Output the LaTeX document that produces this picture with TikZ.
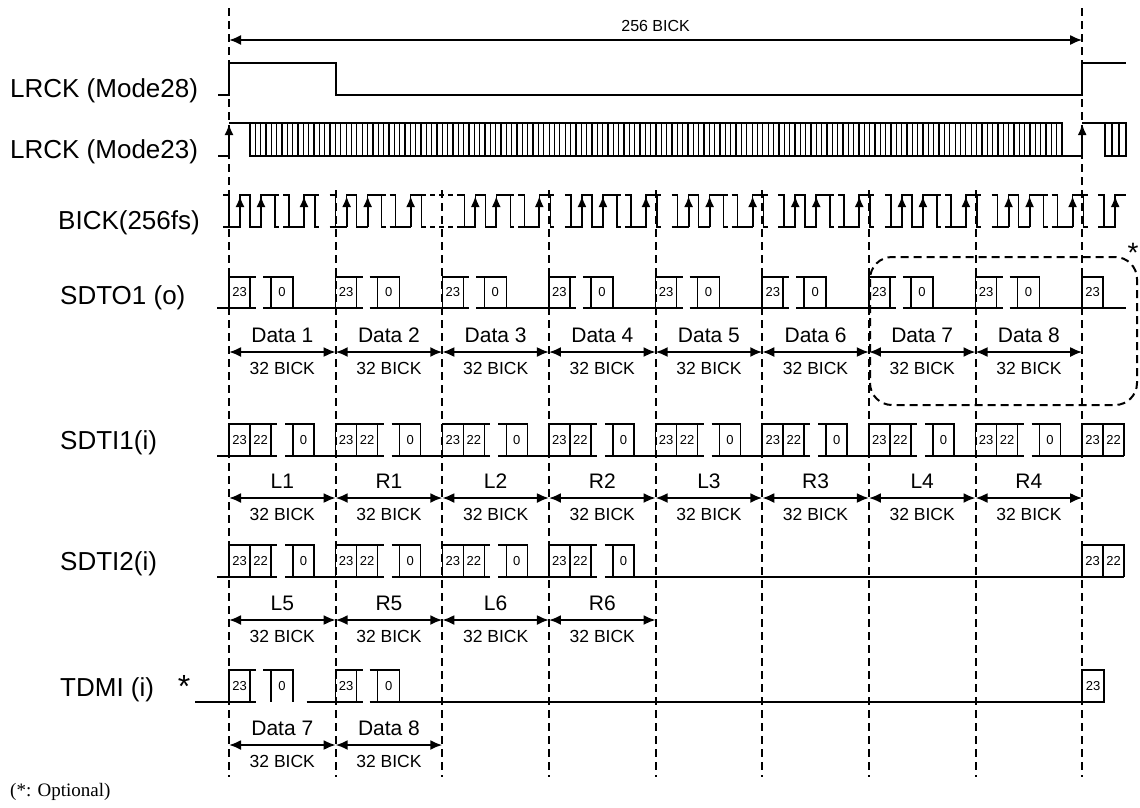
\documentclass[tikz,border=0pt]{standalone}
\usepackage{fontspec}
\setmainfont{Liberation Sans}
\newfontfamily\notefont{Liberation Serif}
\usetikzlibrary{arrows.meta}
\tikzset{
  sig/.style={line width=1.6pt},
  tick/.style={line width=1.3pt},
  grid/.style={line width=2pt,dash pattern=on 8pt off 5pt},
  span/.style={line width=2pt,{Latex[length=12pt,width=10pt]}-{Latex[length=12pt,width=10pt]}},
  rise/.style={line width=2pt,-{Latex[length=11pt,width=9pt]}},
  lbl/.style={anchor=base west,inner sep=0pt,font=\fontsize{26}{28}\selectfont},
  dat/.style={anchor=base,inner sep=0pt,font=\fontsize{21}{23}\selectfont},
  len/.style={anchor=base,inner sep=0pt,font=\fontsize{17.5}{19}\selectfont},
  bit/.style={inner sep=0pt,font=\fontsize{13}{14}\selectfont},
}
\newcommand{\burst}[1]{%
  \draw[sig] (#1-6,227) -- (#1,227) (#1-6,195) -- (#1,195) -- (#1,227) -- (#1+11,227) -- (#1+11,195) -- (#1+21,195) -- (#1+21,227) -- (#1+32,227) -- (#1+32,195) -- (#1+50,195) (#1+46,195) -- (#1+46,227) -- (#1+50,227) (#1+54,195) -- (#1+60,195) -- (#1+60,227) (#1+54,227) -- (#1+75,227) -- (#1+75,195) -- (#1+90,195) (#1+86,195) -- (#1+86,227) -- (#1+90,227);
  \draw[rise] (#1+11,227) -- (#1+11,196); \draw[rise] (#1+32,227) -- (#1+32,196); \draw[rise] (#1+75,227) -- (#1+75,196);}
\newcommand{\obits}[4]{% row, slot, top, base
  \pgfmathsetmacro\sx{229+106.65*#2}\pgfmathsetmacro\my{(#3+#4)/2}
  \draw[sig] (\sx,#4) -- (\sx,#3) -- (\sx+27,#3) (\sx+21,#3) -- (\sx+21,#4) (\sx+34,#3) -- (\sx+64,#3) -- (\sx+64,#4) (\sx+42,#3) -- (\sx+42,#4);
  \node[bit] (#1m#2) at (\sx+10.5,\my) {23};
  \node[bit] (#1l#2) at (\sx+53,\my) {0};}
\newcommand{\ibits}[4]{% row, slot, top, base
  \pgfmathsetmacro\sx{229+106.65*#2}\pgfmathsetmacro\my{(#3+#4)/2}
  \draw[sig] (\sx,#4) -- (\sx,#3) -- (\sx+48,#3) (\sx+21,#3) -- (\sx+21,#4) (\sx+42,#3) -- (\sx+42,#4) (\sx+56,#3) -- (\sx+85,#3) -- (\sx+85,#4) (\sx+64,#3) -- (\sx+64,#4);
  \node[bit] (#1m#2) at (\sx+10.5,\my) {23};
  \node[bit] (#1n#2) at (\sx+31.5,\my) {22};
  \node[bit] (#1l#2) at (\sx+74.5,\my) {0};}

\begin{document}
\begin{tikzpicture}[x=1pt,y=-1pt]
\useasboundingbox (0,0) rectangle (1140,807);
\draw[grid] (229,8) -- (229,777) (1082.2,8) -- (1082.2,777);
\foreach \i in {1,...,7} \draw[grid] ({229+106.65*\i},190) -- ({229+106.65*\i},777);
\draw[span] (229,40) -- (1082.2,40);
\node[len,font=\fontsize{16}{18}\selectfont] (total) at (655.6,31) {256 BICK};

\node[lbl] (lrckA) at (10,97) {LRCK (Mode28)};
\node[lbl] (lrckB) at (10,158) {LRCK (Mode23)};
\node[lbl] (bick) at (58,229) {BICK(256fs)};
\node[lbl] (sdto) at (60,304) {SDTO1 (o)};
\node[lbl] (sdtiA) at (60,449) {SDTI1(i)};
\node[lbl] (sdtiB) at (60,570) {SDTI2(i)};
\node[lbl] (tdmi) at (60,696) {TDMI (i)};
\node[inner sep=0pt,font=\fontsize{32}{32}\selectfont] (tstar) at (184,686) {*};

\draw[sig] (218,95) -- (229,95) -- (229,63) -- (336,63) -- (336,95) -- (1082.2,95) -- (1082.2,63) -- (1126,63);
\draw[sig] (218,156) -- (229,156) (229,123) -- (250,123) (1062,156) -- (1082.2,156) (1082.2,123) -- (1105,123);
\draw[sig] (250,123) rectangle (1062,156) (1105,123) rectangle (1126,156);
\foreach \k in {1,...,151} \draw[tick] ({250+5.342*\k},123) -- ++(0,33);
\draw[tick] (1112,123) -- ++(0,33) (1119,123) -- ++(0,33);
\draw[rise] (229,156) -- (229,124);
\draw[rise] (1082.2,156) -- (1082.2,124);

\foreach \b in {229,335.65,464.3,570.95,677.6,784.25,890.9,997.55} \burst{\b};
\draw[sig] (1098.2,227) -- (1104.2,227) (1098.2,195) -- (1104.2,195) -- (1104.2,227) -- (1115.2,227) -- (1115.2,195) -- (1126,195);
\draw[rise] (1115.2,227) -- (1115.2,196);
\draw[sig,dash pattern=on 5pt off 4pt] (430,195) -- (458,195) (430,227) -- (458,227);

\foreach \i in {0,...,7} \obits{o}{\i}{277}{308};
\draw[sig] (217,308) -- (256,308);
\foreach \i in {0,...,6} \draw[sig] ({229+106.65*\i+34},308) -- ({229+106.65*(\i+1)+27},308);
\draw[sig] (1009.55,308) -- (1126,308) (1082.2,308) -- (1082.2,277) -- (1103.2,277) -- (1103.2,308);
\node[bit] (om8) at (1092.7,292.5) {23};
\draw[grid,rounded corners=22pt] (870,257) rectangle (1137,405);
\node[inner sep=0pt,font=\fontsize{28}{28}\selectfont] (ostar) at (1133,253) {*};
\foreach \i [evaluate=\i as \xa using 229+106.65*\i, evaluate=\i as \xb using 229+106.65*(\i+1), evaluate=\i as \n using int(\i+1)] in {0,...,7} {
  \draw[span] (\xa,352) -- (\xb,352);
  \node[dat] (dat\n) at ({(\xa+\xb)/2},342) {Data \n};
  \node[len] (dlen\n) at ({(\xa+\xb)/2},374) {32 BICK};}

\foreach \i in {0,...,7} \ibits{a}{\i}{424}{456};
\draw[sig] (217,456) -- (277,456);
\foreach \i in {0,...,6} \draw[sig] ({229+106.65*\i+56},456) -- ({229+106.65*(\i+1)+48},456);
\draw[sig] (1031.55,456) -- (1124.2,456) (1082.2,456) -- (1082.2,424) -- (1124.2,424) -- (1124.2,456) (1103.2,424) -- (1103.2,456);
\node[bit] (am8) at (1092.7,440) {23};
\node[bit] (an8) at (1113.7,440) {22};
\foreach \t [count=\c from 0, evaluate=\c as \xa using 229+106.65*\c, evaluate=\c as \xb using 229+106.65*(\c+1)] in {L1,R1,L2,R2,L3,R3,L4,R4} {
  \draw[span] (\xa,498) -- (\xb,498);
  \node[dat] (ch\t) at ({(\xa+\xb)/2},488) {\t};
  \node[len] (alen\t) at ({(\xa+\xb)/2},520) {32 BICK};}

\foreach \i in {0,...,3} \ibits{b}{\i}{545}{577};
\draw[sig] (217,577) -- (277,577);
\foreach \i in {0,...,2} \draw[sig] ({229+106.65*\i+56},577) -- ({229+106.65*(\i+1)+48},577);
\draw[sig] (604.95,577) -- (1124.2,577) (1082.2,577) -- (1082.2,545) -- (1124.2,545) -- (1124.2,577) (1103.2,545) -- (1103.2,577);
\node[bit] (bm8) at (1092.7,561) {23};
\node[bit] (bn8) at (1113.7,561) {22};
\foreach \t [count=\c from 0, evaluate=\c as \xa using 229+106.65*\c, evaluate=\c as \xb using 229+106.65*(\c+1)] in {L5,R5,L6,R6} {
  \draw[span] (\xa,620) -- (\xb,620);
  \node[dat] (ch\t) at ({(\xa+\xb)/2},610) {\t};
  \node[len] (blen\t) at ({(\xa+\xb)/2},642) {32 BICK};}

\foreach \i in {0,1} \obits{t}{\i}{670}{702};
\draw[sig] (195,702) -- (256,702) (306.65,702) -- (362.65,702) (369.65,702) -- (1082.2,702);
\draw[sig] (1082.2,702) -- (1082.2,670) -- (1104,670) -- (1104,702) -- (1082.2,702);
\node[bit] (tm8) at (1093.1,686) {23};
\foreach \t [count=\c from 0, evaluate=\c as \xa using 229+106.65*\c, evaluate=\c as \xb using 229+106.65*(\c+1)] in {7,8} {
  \draw[span] (\xa,745) -- (\xb,745);
  \node[dat] (tdat\t) at ({(\xa+\xb)/2},735) {Data \t};
  \node[len] (tlen\t) at ({(\xa+\xb)/2},767) {32 BICK};}

\node[anchor=base west,inner sep=0pt,font=\notefont\fontsize{19}{20}\selectfont] (note) at (10,796) {(*: Optional)};
\end{tikzpicture}
\end{document}
